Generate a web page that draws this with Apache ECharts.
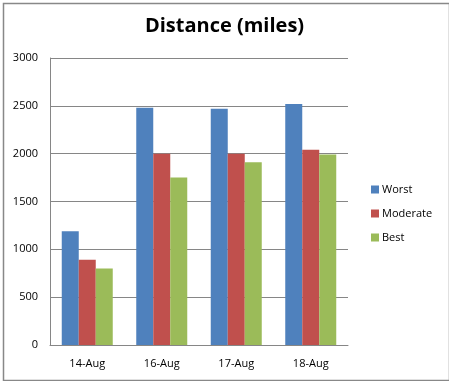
<!DOCTYPE html>
<html>
<head>
<meta charset="utf-8">
<script src="https://cdn.jsdelivr.net/npm/echarts@6/dist/echarts.min.js"></script>
<style>
html,body{margin:0;padding:0;background:#fff;}
#chart{width:449px;height:381px;}
</style>
</head>
<body>
<div id="chart"></div>
<script>
const categories = ['14-Aug', '16-Aug', '17-Aug', '18-Aug'];
const worst = [1190, 2480, 2470, 2520];
const moderate = [890, 2000, 2000, 2040];
const best = [800, 1750, 1910, 1990];
const seriesNames = ['Worst', 'Moderate', 'Best'];
const seriesColors = ['#4F81BD', '#C0504D', '#9BBB59'];
const titleText = 'Distance (miles)';

const FONT = 'Open Sans';
const chart = echarts.init(document.getElementById('chart'), null, {renderer: 'canvas'});
const dataSets = [worst, moderate, best];
chart.setOption({
  animation: false,
  backgroundColor: '#fff',
  textStyle: {fontFamily: FONT},
  graphic: [{
    type: 'rect', left: 1, top: 1,
    shape: {width: 446, height: 377},
    style: {fill: 'none', stroke: '#888', lineWidth: 1.5},
    silent: true
  }],
  title: {
    text: titleText,
    left: 'center',
    top: 11,
    textStyle: {fontFamily: FONT, fontSize: 20, fontWeight: 'bold', color: '#000'}
  },
  legend: {
    orient: 'vertical',
    left: 366,
    top: 179,
    itemWidth: 8,
    itemHeight: 8,
    itemGap: 13,
    icon: 'rect',
    textStyle: {fontFamily: FONT, fontSize: 11, color: '#000', padding: [0, 0, 0, -2]},
    data: seriesNames
  },
  grid: {left: 50, right: 101, top: 58, bottom: 36, containLabel: false},
  xAxis: {
    type: 'category',
    data: categories,
    axisLine: {show: true, lineStyle: {color: '#868686', width: 1}},
    axisTick: {show: false},
    axisLabel: {color: '#000', fontSize: 11, fontFamily: FONT, margin: 13}
  },
  yAxis: {
    type: 'value',
    min: 0, max: 3000, interval: 500,
    axisLine: {show: true, lineStyle: {color: '#868686', width: 1}},
    axisTick: {show: false},
    splitLine: {show: true, lineStyle: {color: '#868686', width: 1}},
    axisLabel: {color: '#000', fontSize: 11, fontFamily: FONT, margin: 12, formatter: v => String(v)}
  },
  series: seriesNames.map((n, i) => ({
    name: n,
    type: 'bar',
    data: dataSets[i],
    barWidth: 17,
    barGap: '0%',
    itemStyle: {color: seriesColors[i]}
  }))
});
</script>
</body>
</html>
